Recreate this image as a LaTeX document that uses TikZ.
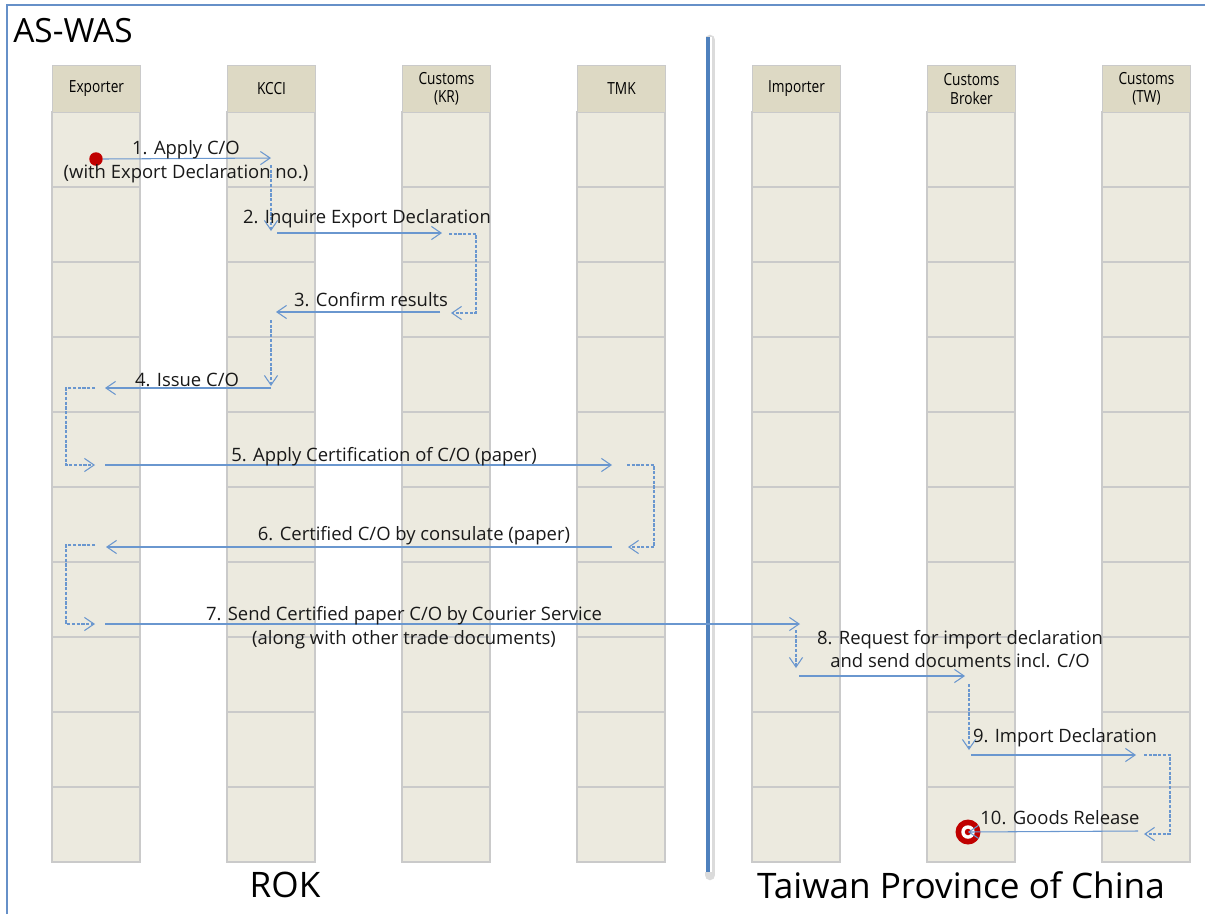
\documentclass[tikz,border=0pt]{standalone}
\usepackage{fontspec}
\setmainfont{Open Sans}
\newfontfamily\headfont[FakeStretch=0.82]{Open Sans}
\usetikzlibrary{arrows.meta,positioning,calc}
\definecolor{lifefill}{HTML}{ECEADF}
\definecolor{headfill}{HTML}{DDD9C4}
\definecolor{cellline}{HTML}{CACACA}
\definecolor{msgblue}{HTML}{6A97CF}
\definecolor{frameblue}{HTML}{6690C8}
\definecolor{divblue}{HTML}{4F81BD}
\definecolor{dotred}{HTML}{C00000}

\begin{document}
\begin{tikzpicture}[x=0.02cm,y=-0.02cm]
		\tikzstyle{every node}=[font=\fontsize{10.5}{13.5}\selectfont, inner sep=0pt]
		\tikzstyle{lifehead}=[draw=cellline, fill=headfill, line width=0.6pt, minimum width=1.76cm, minimum height=0.94cm, anchor=north west, align=center, font=\headfont\fontsize{9.5}{10.5}\selectfont]
		\tikzstyle{lifecell}=[draw=cellline, fill=lifefill, line width=0.6pt]
		\tikzstyle{msg}=[draw=msgblue, line width=0.6pt, -{Straight Barb[length=5.5pt,width=7.5pt]}]
		\tikzstyle{turn}=[msg, dash pattern=on 1.8pt off 0.9pt]
		\tikzstyle{lbl}=[align=center, text=black!90]
		\useasboundingbox (0,0) rectangle (1205,914);
		% frame
		\draw [frameblue, line width=1pt] (7,914) -- (7,5) -- (1205,5);
		\node [font=\fontsize{19}{22}\selectfont, anchor=west] (aswas) at (13,31) {AS-WAS};
		% lifelines
		\foreach \x/\nm/\txt in {52/exp/Exporter, 227/kcci/KCCI, 402/cuskr/{Customs\\(KR)}, 577/tmk/TMK, 752/imp/Importer, 927/brk/{Customs\\Broker}, 1102/custw/{Customs\\(TW)}}{
			\foreach \r in {0,...,9}
				\draw [lifecell] (\x,112+75*\r) rectangle +(88,75);
			\node [lifehead] (\nm) at (\x,65) {\txt};
		}
		% divider
		\draw [black!14, line width=6pt, line cap=round] (710,40) -- (710,875);
		\draw [white, line width=4.5pt] (708,37) -- (708,872);
		\draw [divblue, line width=2.8pt] (708,37) -- (708,872);
		\node [font=\fontsize{20}{24}\selectfont] (rok) at (285,885) {ROK};
		\node [font=\fontsize{20}{24}\selectfont] (twn) at (961,885) {Taiwan Province of China};
		% start and stop
		\node [circle, fill=dotred, minimum size=0.27cm] (start) at (96,159) {};
		\node [circle, fill=dotred, minimum size=0.5cm] (stop) at (968,832) {};
		\node [circle, fill=white, minimum size=0.27cm] (stopring) at (stop) {};
		\node [circle, fill=dotred, minimum size=0.13cm] (stopdot) at (stop) {};
		% end points
		\coordinate (m1e) at (271,158);
		\coordinate (t1s) at (271,165);   \coordinate (t1e) at (271,231);
		\coordinate (m2s) at (277,233);   \coordinate (m2e) at (442,233);
		\coordinate (t2s) at (449,234);   \coordinate (t2e) at (451,313);
		\coordinate (m3s) at (440,312);   \coordinate (m3e) at (276,312);
		\coordinate (t3s) at (271,320);   \coordinate (t3e) at (271,386);
		\coordinate (m4s) at (271,388);   \coordinate (m4e) at (105,388);
		\coordinate (t4s) at (95,388);    \coordinate (t4e) at (95,465);
		\coordinate (m5s) at (105,465);   \coordinate (m5e) at (612,465);
		\coordinate (t5s) at (627,465);   \coordinate (t5e) at (628,547);
		\coordinate (m6s) at (612,547);   \coordinate (m6e) at (106,547);
		\coordinate (t6s) at (95,545);    \coordinate (t6e) at (95,624);
		\coordinate (m7s) at (105,624);   \coordinate (m7e) at (800,624);
		\coordinate (t7s) at (796,630);   \coordinate (t7e) at (796,668);
		\coordinate (m8s) at (799,676);   \coordinate (m8e) at (965,676);
		\coordinate (t8s) at (969,684);   \coordinate (t8e) at (969,750);
		\coordinate (m9s) at (971,755);   \coordinate (m9e) at (1136,755);
		\coordinate (t9s) at (1144,755);  \coordinate (t9e) at (1144,834);
		\coordinate (m10s) at (1138,831);
		% messages
		\draw [msg] (start.east) -- (m1e);
		\draw [turn] (t1s) -- (t1e);
		\draw [msg] (m2s) -- (m2e);
		\draw [turn] (t2s) -- ++(27,0) |- (t2e);
		\draw [msg] (m3s) -- (m3e);
		\draw [turn] (t3s) -- (t3e);
		\draw [msg] (m4s) -- (m4e);
		\draw [turn] (t4s) -- ++(-29,0) |- (t4e);
		\draw [msg] (m5s) -- (m5e);
		\draw [turn] (t5s) -- ++(27,0) |- (t5e);
		\draw [msg] (m6s) -- (m6e);
		\draw [turn] (t6s) -- ++(-29,0) |- (t6e);
		\draw [msg] (m7s) -- (m7e);
		\draw [turn] (t7s) -- (t7e);
		\draw [msg] (m8s) -- (m8e);
		\draw [turn] (t8s) -- (t8e);
		\draw [msg] (m9s) -- (m9e);
		\draw [turn] (t9s) -- ++(26,0) |- (t9e);
		\draw [msg] (m10s) -- (stop.center);
		% labels
		\node [lbl] (l1) at (186,162) {1. Apply C/O\\(with Export Declaration no.)};
		\node [lbl] (l2) at (367,219) {2. Inquire Export Declaration};
		\node [lbl] (l3) at (371,300) {3. Confirm results};
		\node [lbl] (l4) at (187,380) {4. Issue C/O};
		\node [lbl] (l5) at (384,457) {5. Apply Certification of C/O (paper)};
		\node [lbl] (l6) at (414,536) {6. Certified C/O by consulate (paper)};
		\node [lbl] (l7) at (404,628) {7. Send Certified paper C/O by Courier Service\\(along with other trade documents)};
		\node [lbl] (l8) at (960,649) {8. Request for import declaration\\and send documents incl. C/O};
		\node [lbl] (l9) at (1065,738) {9. Import Declaration};
		\node [lbl] (l10) at (1060,818) {10. Goods Release};
	\end{tikzpicture}
\end{document}
